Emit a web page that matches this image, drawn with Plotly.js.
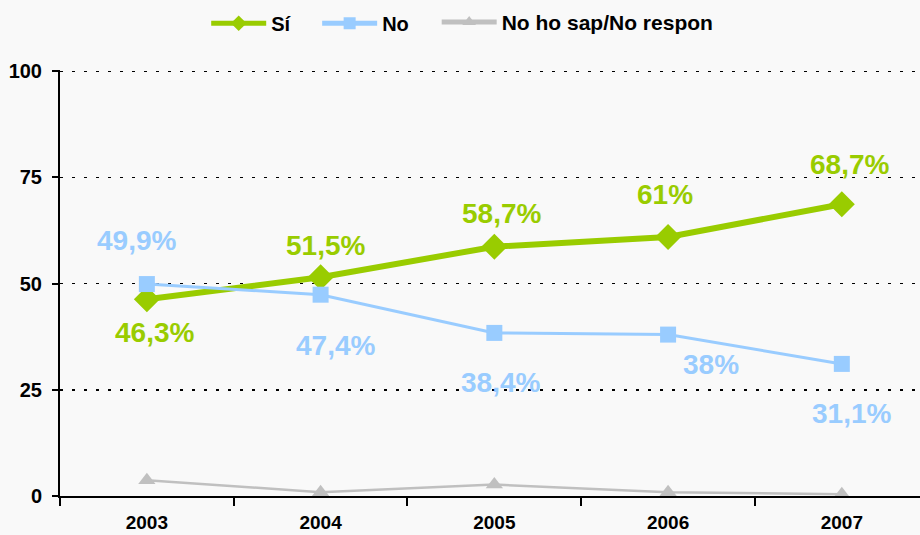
<!DOCTYPE html>
<html><head><meta charset="utf-8">
<script src="https://cdn.plot.ly/plotly-3.0.1.min.js"></script>
<style>html,body{margin:0;padding:0;background:#fff;}#chart{width:920px;height:535px;}</style>
</head><body><div id="chart"></div>
<script>
const years = ['2003','2004','2005','2006','2007'];
const si = [46.3, 51.5, 58.7, 61, 68.7];
const no = [49.9, 47.4, 38.4, 38, 31.1];
const nsnc = [3.7, 0.9, 2.7, 0.9, 0.4];
const siLabels = ['46,3%','51,5%','58,7%','61%','68,7%'];
const noLabels = ['49,9%','47,4%','38,4%','38%','31,1%'];
const yTicks = [0, 25, 50, 75, 100];

// label placement styles (pixel offsets)
const siShiftY = [-33, 32, 33, 42, 40];
const siShiftX = [8, 5, 7, -3, 8];
const noShiftY = [44, -51, -50, -30, -50];
const noShiftX = [-10, 15, 6, 43, 10];

const green = '#99cc00', blue = '#99ccff', grey = '#c0c0c0';

const traces = [
  {x: years, y: si, name: 'Sí', legend: 'legend', mode: 'lines+markers', type: 'scatter', cliponaxis: false,
   line: {color: green, width: 6}, marker: {symbol: 'diamond', size: 20, color: green}},
  {x: years, y: no, name: 'No', legend: 'legend2', mode: 'lines+markers', type: 'scatter', cliponaxis: false,
   line: {color: blue, width: 3}, marker: {symbol: 'square', size: 16, color: blue}},
  {x: years, y: nsnc, name: 'No ho sap/No respon', legend: 'legend3', mode: 'lines+markers', type: 'scatter', cliponaxis: false,
   line: {color: grey, width: 2.5}, marker: {symbol: 'triangle-up', size: 15, color: grey}}
];

const annotations = [];
years.forEach((yr, i) => {
  annotations.push({xref: 'x', yref: 'y', x: i, y: si[i], text: siLabels[i], showarrow: false, xshift: siShiftX[i], yshift: siShiftY[i],
    font: {family: 'Liberation Sans, Arial', size: 28, color: green, weight: 'bold'}});
  annotations.push({xref: 'x', yref: 'y', x: i, y: no[i], text: noLabels[i], showarrow: false, xshift: noShiftX[i], yshift: noShiftY[i],
    font: {family: 'Liberation Sans, Arial', size: 28, color: blue, weight: 'bold'}});
});

function legendAt(x, size) {
  return {orientation: 'h', x: x, xanchor: 'left', y: 0.92, yanchor: 'bottom', yref: 'container',
    font: {size: size, weight: 'bold'}, itemwidth: 55, itemsizing: 'constant', bgcolor: 'rgba(0,0,0,0)'};
}

const layout = {
  width: 920, height: 535,
  paper_bgcolor: '#f9f9f9', plot_bgcolor: 'rgba(0,0,0,0)',
  margin: {l: 60, r: 0, t: 70, b: 39},
  font: {family: 'Liberation Sans, Arial', color: '#000'},
  showlegend: true,
  legend: legendAt(0.170, 20),
  legend2: legendAt(0.299, 20),
  legend3: legendAt(0.438, 21),
  xaxis: {type: 'category', range: [-0.5, 4.45], tickson: 'boundaries', ticks: 'outside', ticklen: 8,
    tickcolor: '#000', tickwidth: 2, showline: true, linecolor: '#000', linewidth: 2, showgrid: false,
    tickfont: {size: 19, weight: 'bold'}, ticklabelstandoff: 8, fixedrange: true},
  yaxis: {range: [0, 100.3], tickvals: yTicks, ticktext: yTicks.map(String), ticks: 'outside', ticklen: 6,
    tickcolor: '#000', tickwidth: 2, showline: true, linecolor: '#000', linewidth: 2,
    showgrid: true, gridcolor: '#000', gridwidth: 1.5, griddash: '3px,9px', zeroline: false,
    tickfont: {size: 20, weight: 'bold'}, ticklabelstandoff: 6},
  annotations: annotations
};
Plotly.newPlot('chart', traces, layout, {displayModeBar: false, staticPlot: true});
document.querySelectorAll('text.legendtext').forEach(t => {
  if (t.textContent.indexOf('No ho') === 0) t.setAttribute('letter-spacing', '1.8');
});
</script></body></html>
